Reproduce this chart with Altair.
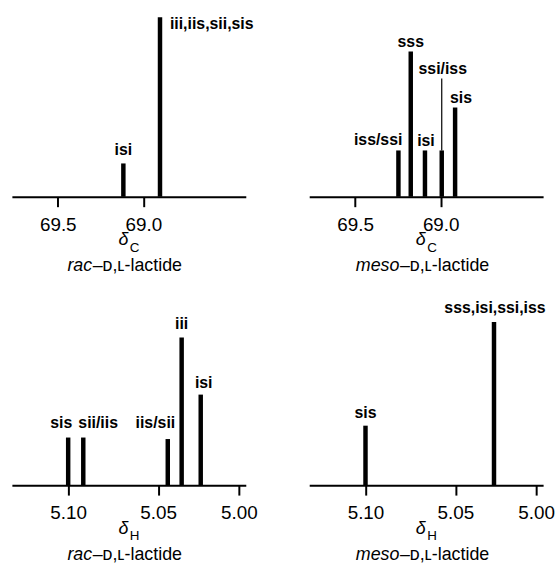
import altair as alt
import pandas as pd

FONT = "Liberation Sans"

# ---- data (chemical shift in ppm, relative intensity) ----
c_rac_ppm = [69.117, 68.903]
c_rac_int = [17.7, 95.3]
c_rac_lab = ["isi", "iii,iis,sii,sis"]

c_meso_ppm = [69.247, 69.175, 69.092, 68.994, 68.916]
c_meso_int = [24.6, 77.2, 24.6, 24.6, 47.4]
c_meso_lab = ["iss/ssi", "sss", "isi", "ssi/iss", "sis"]
c_meso_leader = [None, None, None, 62.8, None]

h_rac_ppm = [5.100, 5.0916, 5.0440, 5.0354, 5.0236]
h_rac_int = [25.3, 25.3, 24.5, 78.4, 48.1]
h_rac_lab = ["sis", "sii/iis", "iis/sii", "iii", "isi"]

h_meso_ppm = [5.100, 5.0261]
h_meso_int = [31.6, 86.6]
h_meso_lab = ["sis", "sss,isi,ssi,iss"]

c_ticks = [69.5, 69.0]
h_ticks = [5.10, 5.05, 5.00]

# ---- label styles (align, dx, dy) ----
c_rac_sty = [("center", 0, -9), ("left", 10, 12)]
c_meso_sty = [("right", 4, -6), ("center", 0, -4.5), ("center", 1, -4.5),
              ("center", 1, -4.5), ("center", 6, -4.5)]
h_rac_sty = [("center", -7, -10), ("left", -5, -10), ("right", 7.5, -11.5),
             ("center", 0, -9), ("center", 3, -7)]
h_meso_sty = [("center", 0, -8), ("center", 1, -9)]

W, H = 236, 190

c_scale = alt.Scale(domain=[69.768, 68.402], nice=False, zero=False)
h_scale = alt.Scale(domain=[5.1313, 5.05, 4.9957], range=[0, 147.5, W], nice=False, zero=False)


def panel(ppm, inten, labels, styles, xscale, ticks, fmt, nucleus, sample, split, leader=None):
    df = pd.DataFrame({"ppm": ppm, "int": inten, "lab": labels})
    x = alt.X("ppm:Q", scale=xscale,
              axis=alt.Axis(values=ticks, format=fmt, title=None, grid=False,
                            domainWidth=2, domainColor="black", tickColor="black",
                            tickWidth=2, tickSize=10, labelFont=FONT, labelFontSize=19,
                            labelColor="black", labelPadding=9, labelFlush=False,
                            labelOverlap=False))
    y = alt.Y("int:Q", scale=alt.Scale(domain=[0, 100], nice=False), axis=None)
    layers = [alt.Chart(df).mark_rule(strokeWidth=4.5, color="black").encode(
        x=x, y=y, y2=alt.datum(0))]
    anchors = list(inten)
    if leader is not None:
        rows = [(p, v, t) for p, v, t in zip(ppm, inten, leader) if t is not None]
        ldf = pd.DataFrame({"ppm": [r[0] for r in rows], "int": [r[1] for r in rows],
                            "top": [r[2] for r in rows]})
        layers.append(alt.Chart(ldf).mark_rule(strokeWidth=1.2, color="black").encode(
            x=x, y=y, y2="top:Q"))
        anchors = [t if t is not None else v for v, t in zip(inten, leader)]
    for i, (al, dx, dy) in enumerate(styles):
        tdf = pd.DataFrame({"ppm": [ppm[i]], "int": [anchors[i]], "lab": [labels[i]]})
        layers.append(alt.Chart(tdf).mark_text(
            font=FONT, fontSize=16, fontWeight="bold", color="black",
            align=al, baseline="alphabetic", dx=dx, dy=dy).encode(
            x=x, y=y, text="lab:N"))
    one = pd.DataFrame({"a": [0]})
    layers.append(alt.Chart(one).mark_text(
        text="δ", font=FONT, fontSize=18, fontStyle="italic", color="black",
        align="right", baseline="alphabetic").encode(x=alt.value(W / 2 - 0.5), y=alt.value(H + 49)))
    layers.append(alt.Chart(one).mark_text(
        text=nucleus, font=FONT, fontSize=13.5, color="black",
        align="left", baseline="alphabetic").encode(x=alt.value(W / 2 + 1), y=alt.value(H + 55.5)))
    layers.append(alt.Chart(one).mark_text(
        text=sample, font=FONT, fontSize=18, fontStyle="italic", color="black",
        align="right", baseline="alphabetic").encode(x=alt.value(split), y=alt.value(H + 75)))
    layers.append(alt.Chart(one).mark_text(
        text="–ᴅ,ʟ-lactide", font=FONT, fontSize=18, color="black",
        align="left", baseline="alphabetic").encode(x=alt.value(split + 0.5), y=alt.value(H + 75)))
    return alt.layer(*layers).properties(width=W, height=H)


p1 = panel(c_rac_ppm, c_rac_int, c_rac_lab, c_rac_sty, c_scale, c_ticks, ".1f", "C", "rac", 81)
p2 = panel(c_meso_ppm, c_meso_int, c_meso_lab, c_meso_sty, c_scale, c_ticks, ".1f", "C", "meso", 91,
           leader=c_meso_leader)
p3 = panel(h_rac_ppm, h_rac_int, h_rac_lab, h_rac_sty, h_scale, h_ticks, ".2f", "H", "rac", 81)
p4 = panel(h_meso_ppm, h_meso_int, h_meso_lab, h_meso_sty, h_scale, h_ticks, ".2f", "H", "meso", 91)

chart = alt.concat(p1, p2, p3, p4, columns=2, spacing={"row": 101, "column": 64},
                   bounds="flush").resolve_scale(x="independent", y="independent").properties(
    padding={"left": 12, "top": 6, "right": 0, "bottom": 0}
).configure_view(stroke=None)

chart.save("out.html", embed_options={"renderer": "svg", "actions": False})
